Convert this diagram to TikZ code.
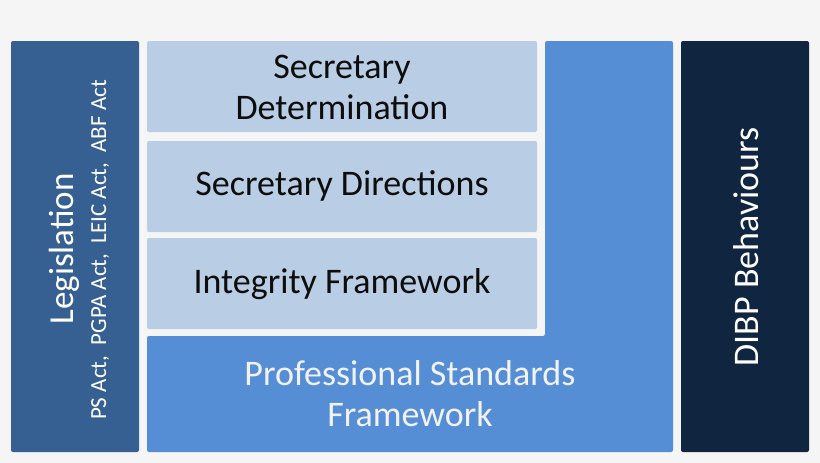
\documentclass[tikz,border=0pt]{standalone}
\usepackage{fontspec}
\setmainfont{Carlito}
\definecolor{legblue}{HTML}{376092}
\definecolor{paleblue}{HTML}{B9CDE5}
\definecolor{midblue}{HTML}{558ED5}
\definecolor{navyblue}{HTML}{10253F}
\definecolor{bggray}{HTML}{F5F5F5}
\begin{document}
\begin{tikzpicture}[x = 1pt, y = -1pt,
    panel/.style = {rounded corners = 2pt},
    bigtext/.style = {align = center, font = \fontsize{36}{41}\selectfont},
    sidetext/.style = {rotate = 90, anchor = base, white}]
        \fill[bggray] (0, 0) rectangle (820, 463);
        
        \fill[legblue, panel] (11, 41) rectangle (139, 452);
        \fill[midblue, panel] (545, 41) -- (673, 41) -- (673, 452) -- (147, 452) -- (147, 336) -- (545, 336) -- cycle;
        \fill[paleblue, panel] (147, 41) rectangle (537, 132);
        \fill[paleblue, panel] (147, 141) rectangle (537, 232);
        \fill[paleblue, panel] (147, 238) rectangle (537, 329);
        \fill[navyblue, panel] (681, 41) rectangle (809, 452);
        
        \node[sidetext, font = \fontsize{35}{40}\selectfont] (legis) at (73, 249) {Legislation};
        \node[sidetext, font = \fontsize{23}{27}\selectfont] (acts) at (106, 250) {PS Act,\ \ PGPA Act,\ \ LEIC Act,\ \ ABF Act};
        \node[bigtext, text = black!95] (secdet) at (342, 87) {Secretary\\Determination};
        \node[bigtext, text = black!95] (secdir) at (342, 186) {Secretary Directions};
        \node[bigtext, text = black!95] (integ) at (342, 284) {Integrity Framework};
        \node[bigtext, text = white!95!black] (prostd) at (410, 394) {Professional Standards\\Framework};
        \node[sidetext, font = \fontsize{36}{41}\selectfont] (dibp) at (758, 247) {DIBP Behaviours};
      \end{tikzpicture}
\end{document}
